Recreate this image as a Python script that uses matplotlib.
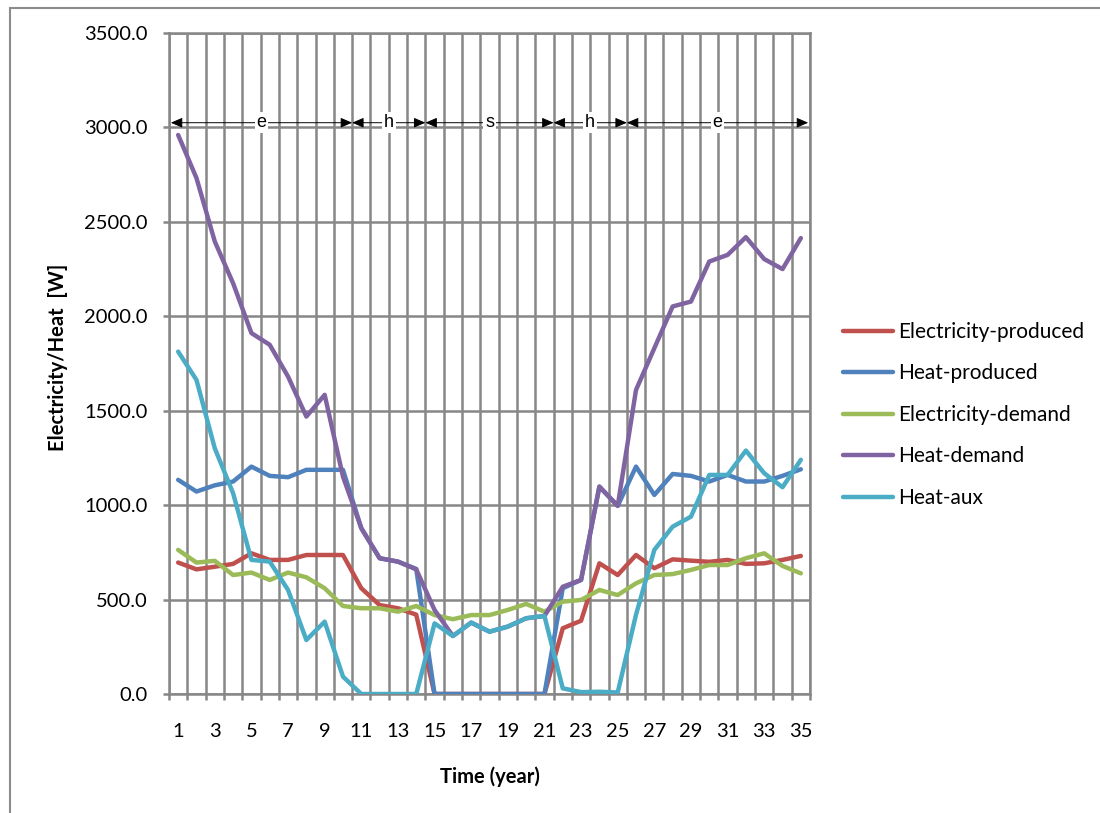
import matplotlib
matplotlib.use("Agg")
import matplotlib.pyplot as plt
from matplotlib.patches import Rectangle
import numpy as np

plt.rcParams['font.family'] = ['Lato', 'DejaVu Sans']

years = list(range(1, 36))
elec_prod = [696, 660, 674, 689, 745, 710, 710, 736, 736, 736, 560, 471, 454, 420,
             0, 0, 0, 0, 0, 0, 0,
             348, 388, 692, 630, 736, 666, 713, 706, 700, 710, 689, 692, 710, 731]
heat_prod = [1134, 1072, 1105, 1125, 1204, 1155, 1148, 1187, 1187, 1187, 878, 719, 701, 662,
             0, 0, 0, 0, 0, 0, 0,
             560, 604, 1098, 996, 1204, 1054, 1165, 1155, 1125, 1160, 1125, 1125, 1155, 1190]
elec_dem = [763, 696, 705, 630, 643, 604, 643, 618, 560, 466, 454, 454, 436, 466, 418,
            396, 418, 418, 445, 477, 436, 489, 498, 551, 524, 586, 630, 635, 657, 683,
            683, 719, 745, 678, 639]
heat_dem = [2960, 2732, 2396, 2175, 1911, 1849, 1681, 1469, 1584, 1151, 878, 719, 701, 660,
            445, 307, 378, 330, 357, 401, 413, 568, 604, 1098, 996, 1610, 1831, 2052, 2078,
            2290, 2325, 2419, 2303, 2250, 2414]
heat_aux = [1813, 1663, 1301, 1063, 710, 701, 551, 286, 383, 92, 0, 0, 0, 0, 374, 307,
            378, 330, 357, 401, 413, 30, 10, 12, 8, 420, 763, 886, 939, 1160, 1160, 1289,
            1169, 1095, 1240]

series_names = ['Electricity-produced', 'Heat-produced', 'Electricity-demand',
                'Heat-demand', 'Heat-aux']
series_colors = ['#C0504D', '#4F81BD', '#9BBB59', '#8064A2', '#4BACC6']

# season segments (category boundaries) and labels
seg_bounds = [0.6, 10.5, 14.5, 21.5, 25.5, 35.4]
seg_labels = ['e', 'h', 's', 'h', 'e']
arrow_level = 3025

yticks = [0, 500, 1000, 1500, 2000, 2500, 3000, 3500]

W, H = 1100, 813
fig = plt.figure(figsize=(W / 100, H / 100), dpi=100)
ax = fig.add_axes([169 / W, 1 - 694 / H, (810 - 169) / W, (694 - 33) / H])

grid_c = '#878787'
grid_lw = 1.8
fs = 14.5

for vals, name, col in zip([elec_prod, heat_prod, elec_dem, heat_dem, heat_aux],
                           series_names, series_colors):
    ax.plot(years, vals, color=col, lw=3.2, label=name,
            solid_joinstyle='round', solid_capstyle='round', zorder=3)

ax.set_xlim(0.5, 35.5)
ax.set_ylim(0, 3500)

ax.set_yticks(yticks)
ax.set_yticklabels([f"{v:.1f}" for v in yticks])
ax.set_xticks(years[::2])
ax.set_xticklabels([str(y) for y in years[::2]])
ax.set_xticks(np.arange(0.5, 36, 1.0), minor=True)

ax.tick_params(axis='x', which='major', length=0, pad=21, labelsize=fs)
ax.tick_params(axis='x', which='minor', length=4.5, width=grid_lw, color=grid_c, direction='out')
ax.tick_params(axis='y', which='major', length=4.5, width=grid_lw, color=grid_c, pad=11,
               labelsize=fs)

ax.grid(True, axis='y', which='major', color=grid_c, lw=grid_lw, zorder=0)
ax.grid(True, axis='x', which='minor', color=grid_c, lw=grid_lw, zorder=0)
ax.grid(False, axis='x', which='major')
ax.set_axisbelow(True)
for s in ax.spines.values():
    s.set_color(grid_c)
    s.set_linewidth(grid_lw)

# season arrows
for i, lab in enumerate(seg_labels):
    a, b = seg_bounds[i], seg_bounds[i + 1]
    ax.annotate('', xy=(b, arrow_level), xytext=(a, arrow_level),
                arrowprops=dict(arrowstyle='<|-|>,head_length=0.7,head_width=0.3',
                                color='black', lw=0.7, shrinkA=0, shrinkB=0),
                zorder=4)
    ax.text((a + b) / 2, arrow_level, lab, ha='center', va='center', fontsize=13,
            family=['Liberation Sans', 'DejaVu Sans'],
            bbox=dict(boxstyle='square,pad=0.1', fc='white', ec='none'), zorder=5)

ax.set_xlabel('Time (year)', fontsize=fs, fontweight='bold', labelpad=19)
ax.set_ylabel('Electricity/Heat  [W]', fontsize=fs, fontweight='bold', labelpad=17)
ax.yaxis.set_label_coords(-0.158, 0.51)

fig.legend(loc='upper left', bbox_to_anchor=(843 / W, 1 - 322 / H), frameon=False,
           fontsize=15, handlelength=2.4, handletextpad=0.25, labelspacing=1.03,
           borderpad=0, borderaxespad=0)

fig.add_artist(Rectangle((10 / W, -0.1), 1.2, (1 - 8 / H) + 0.1, transform=fig.transFigure,
                         fill=False, ec='#8c8c8c', lw=1.5))

fig.savefig('out.png', dpi=100)
